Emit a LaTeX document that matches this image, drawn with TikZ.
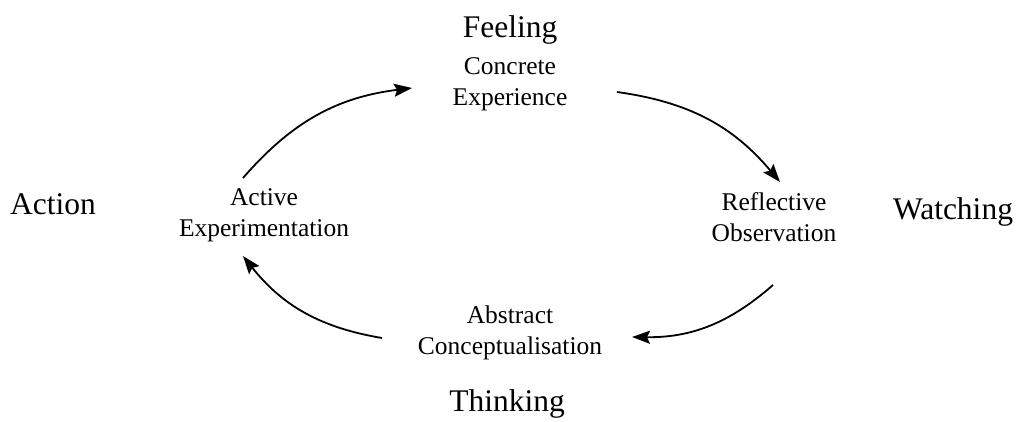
\documentclass[tikz,border=0pt]{standalone}
\usepackage{fontspec}
\setmainfont{Liberation Serif}
\usetikzlibrary{positioning,arrows.meta}
\tikzset{every picture/.style={line width=1.8pt}}
\tikzset{
  kbpole/.style  ={inner sep=0pt, font=\fontsize{31.5}{36}\selectfont},
  kbstage/.style ={inner sep=0pt, align=center, font=\fontsize{25.5}{31}\selectfont},
  kbedge/.style  ={-{Stealth[length=18pt, width=13pt, inset=3pt]}, black, bend left=21},
}

\begin{document}
\begin{tikzpicture}[x=1pt, y=1pt]
        \useasboundingbox (0,0) rectangle (1019,421);
        % stadi del ciclo
        \node[kbstage] (ce) at (510,337) {Concrete\\Experience};
        \node[kbstage] (ro) at (774,204) {Reflective\\Observation};
        \node[kbstage] (abc) at (510,88) {Abstract\\Conceptualisation};
        \node[kbstage] (ae) at (264,206) {Active\\Experimentation};
        % poli
        \node[kbpole] (fe) at (510,391) {Feeling};
        \node[kbpole] (wa) at (953,209) {Watching};
        \node[kbpole] (th) at (507,17) {Thinking};
        \node[kbpole] (acn) at (53,217) {Action};
        % estremi delle frecce
        \coordinate (ae-out) at (243,243);
        \coordinate (ce-in) at (412,333);
        \coordinate (ce-out) at (617,329);
        \coordinate (ro-in) at (780,239);
        \coordinate (ro-out) at (773,136);
        \coordinate (abc-in) at (632,84);
        \coordinate (abc-out) at (382,83);
        \coordinate (ae-in) at (243,165);
        \draw[kbedge] (ae-out) to (ce-in);
        \draw[kbedge] (ce-out) to (ro-in);
        \draw[kbedge] (ro-out) to (abc-in);
        \draw[kbedge] (abc-out) to (ae-in);
    \end{tikzpicture}
\end{document}
